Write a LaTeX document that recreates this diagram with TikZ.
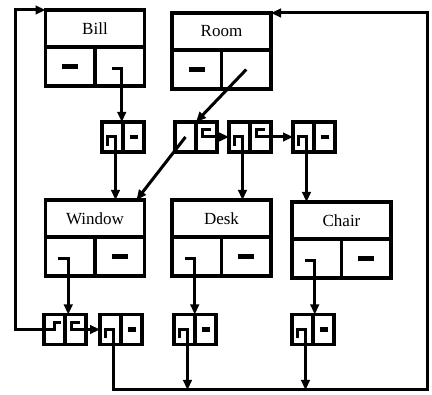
\documentclass[tikz,border=0pt]{standalone}
\usepackage{fontspec}
\setmainfont{Liberation Serif}
\usetikzlibrary{arrows.meta,calc}
\begin{document}
\begin{tikzpicture}[x=1pt,y=-1pt,
  ln/.style={line width=3pt, line join=miter},
  ptr/.style={ln, -{Triangle[length=10pt,width=8.5pt]}},
  ttl/.style={draw, line width=3.2pt, minimum width=99pt, minimum height=37pt, inner sep=0pt, outer sep=0pt, font=\fontsize{17}{19}\selectfont},
  bcell/.style={draw, line width=3.2pt, minimum width=49.5pt, minimum height=39pt, inner sep=0pt, outer sep=0pt},
  scell/.style={draw, line width=3.2pt, minimum width=21pt, minimum height=30pt, inner sep=0pt, outer sep=0pt},
  nilb/.style={line width=4.5pt},
  nils/.style={line width=4.5pt}]
\useasboundingbox (0,0) rectangle (432,395);
\fill[white] (0,0) rectangle (432,395);

% big records
\node[ttl] (billT) at (95,28.5) {Bill};
\node[bcell, anchor=north west] (billL) at (billT.south west) {};
\node[bcell, anchor=north east] (billR) at (billT.south east) {};
\node[ttl] (roomT) at (221.5,31.5) {Room};
\node[bcell, anchor=north west] (roomL) at (roomT.south west) {};
\node[bcell, anchor=north east] (roomR) at (roomT.south east) {};
\node[ttl] (winT) at (95,218.5) {Window};
\node[bcell, anchor=north west] (winL) at (winT.south west) {};
\node[bcell, anchor=north east] (winR) at (winT.south east) {};
\node[ttl] (deskT) at (221.5,218.5) {Desk};
\node[bcell, anchor=north west] (deskL) at (deskT.south west) {};
\node[bcell, anchor=north east] (deskR) at (deskT.south east) {};
\node[ttl] (chairT) at (341.5,220.5) {Chair};
\node[bcell, anchor=north west] (chairL) at (chairT.south west) {};
\node[bcell, anchor=north east] (chairR) at (chairT.south east) {};

% small cells, middle row
\node[scell, anchor=east] (s1L) at (123,137) {};
\node[scell, anchor=west] (s1R) at (123,137) {};
\node[scell, anchor=east] (s2L) at (196,137) {};
\node[scell, anchor=west] (s2R) at (196,137) {};
\node[scell, anchor=east] (s3L) at (250,137) {};
\node[scell, anchor=west] (s3R) at (250,137) {};
\node[scell, anchor=east] (s4L) at (314,137) {};
\node[scell, anchor=west] (s4R) at (314,137) {};
% small cells, bottom row
\node[scell, anchor=east] (b1L) at (65,329.5) {};
\node[scell, anchor=west] (b1R) at (65,329.5) {};
\node[scell, anchor=east] (b2L) at (121,329.5) {};
\node[scell, anchor=west] (b2R) at (121,329.5) {};
\node[scell, anchor=east] (b3L) at (195,329.5) {};
\node[scell, anchor=west] (b3R) at (195,329.5) {};
\node[scell, anchor=east] (b4L) at (313,329.5) {};
\node[scell, anchor=west] (b4R) at (313,329.5) {};

% nil marks
\foreach \c in {billL,roomL,winR,deskR,chairR}
  \draw[nilb] ($(\c.center)+(-8,0)$) -- ($(\c.center)+(8,0)$);
\foreach \c in {s1R,s4R,b2R,b3R,b4R}
  \draw[nils] ($(\c.center)+(-4,0)$) -- ($(\c.center)+(4,0)$);

% helper coordinates
\coordinate (loopL) at (15,0);
\coordinate (botL) at (0,390);
\coordinate (rtC) at (427,0);

% Bill -> s1
\coordinate (pb) at ($(billR.center)+(2,2)$);
\draw[ptr] ($(pb)+(-10,0)$) -- (pb) -- (pb |- s1L.north);
% Room -> s2
\draw[ptr] (roomR.center) -- (s2L.north east);
% s1 -> Window
\coordinate (p1) at ($(s1L.center)+(3,0)$);
\draw[ptr] ($(p1)+(-8,9)$) -- ($(p1)+(-8,0)$) -- (p1) -- (p1 |- winT.north);
% s2 -> Window
\draw[ptr] (s2L.center) -- ($(winT.north east)+(-8,0)$);
% s2 -> s3
\coordinate (p2) at ($(s2R.center)+(-4,0)$);
\draw[ptr] ($(p2)+(8,-7)$) -- ($(p2)+(0,-7)$) -- (p2) -- (p2 -| s3L.west);
% s3 -> Desk
\coordinate (p3) at ($(s3L.center)+(3,0)$);
\draw[ptr] ($(p3)+(-8,9)$) -- ($(p3)+(-8,0)$) -- (p3) -- (p3 |- deskT.north);
% s3 -> s4
\coordinate (p4) at ($(s3R.center)+(-4,0)$);
\draw[ptr] ($(p4)+(8,-7)$) -- ($(p4)+(0,-7)$) -- (p4) -- (p4 -| s4L.west);
% s4 -> Chair
\coordinate (p5) at ($(s4L.center)+(3,0)$);
\draw[ptr] ($(p5)+(-8,9)$) -- ($(p5)+(-8,0)$) -- (p5) -- (p5 |- chairT.north);

% Window -> b1
\coordinate (pw) at ($(winL.center)+(-2,2)$);
\draw[ptr] ($(pw)+(-10,0)$) -- (pw) -- (pw |- b1L.north);
% Desk -> b3
\coordinate (pd) at ($(deskL.center)+(-2,2)$);
\draw[ptr] ($(pd)+(-10,0)$) -- (pd) -- (pd |- b3L.north);
% Chair -> b4
\coordinate (pc) at ($(chairL.center)+(-2,2)$);
\draw[ptr] ($(pc)+(-10,0)$) -- (pc) -- (pc |- b4L.north);

% b1 -> Bill (left loop)
\coordinate (q1) at (b1L.center);
\draw[ptr] ($(q1)+(6,-7)$) -- ($(q1)+(0,-7)$) -- (q1) -- (q1 -| loopL) |- (billT.north west);
% b1 -> b2
\coordinate (q0) at ($(b1R.center)+(-4,0)$);
\draw[ptr] ($(q0)+(8,-7)$) -- ($(q0)+(0,-7)$) -- (q0) -- (q0 -| b2L.west);
% b2 -> Room (bottom/right loop)
\coordinate (q2) at ($(b2L.center)+(3,0)$);
\draw[ptr] ($(q2)+(-8,9)$) -- ($(q2)+(-8,0)$) -- (q2) -- (q2 |- botL) -| (rtC |- roomT.north east) -- (roomT.north east);
% b3 -> bottom line
\coordinate (q3) at ($(b3L.center)+(3,0)$);
\draw[ptr] ($(q3)+(-8,9)$) -- ($(q3)+(-8,0)$) -- (q3) -- (q3 |- botL);
% b4 -> bottom line
\coordinate (q4) at ($(b4L.center)+(3,0)$);
\draw[ptr] ($(q4)+(-8,9)$) -- ($(q4)+(-8,0)$) -- (q4) -- (q4 |- botL);
\end{tikzpicture}
\end{document}
